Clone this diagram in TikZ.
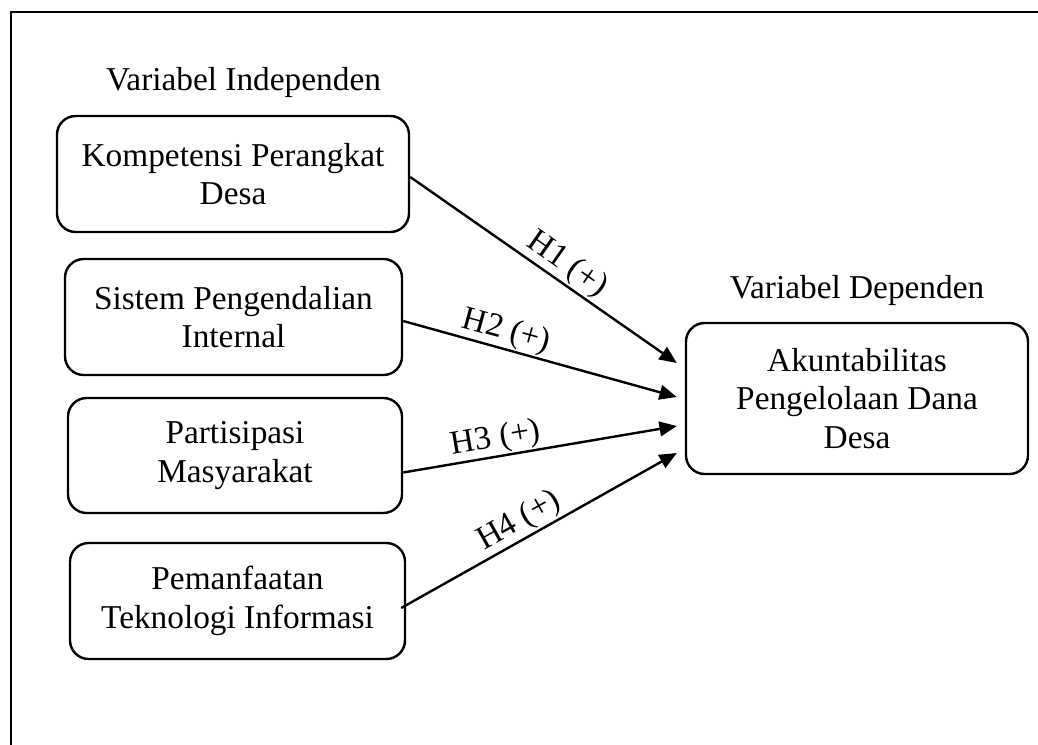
\documentclass[tikz,border=0pt]{standalone}
\usepackage{fontspec}
\setmainfont{Liberation Serif}
\usetikzlibrary{arrows.meta,calc}
\begin{document}
\begin{tikzpicture}[x=0.75pt,y=-0.75pt,
  txt/.style={font=\fontsize{25}{29}\selectfont},
  box/.style={txt, draw, line width=1.8pt, rounded corners=14pt, align=center, inner sep=0pt},
  conn/.style={line width=1.8pt, -{Triangle[length=13pt,width=11pt]}},
  hlab/.style={txt, sloped, above, inner sep=1pt}]
\useasboundingbox (0,0) rectangle (1038,745);
\draw[line width=1.8pt] (11,745) -- (11,12) -- (1038,12);

\node[txt, anchor=base] (ti) at (243.5,91) {Variabel Independen};
\node[txt, anchor=base] (td) at (857,298) {Variabel Dependen};

\node[box, minimum width=264pt, minimum height=87pt] (k1) at (233,174) {Kompetensi Perangkat\\Desa};
\node[box, minimum width=252.75pt, minimum height=87pt] (k2) at (233.5,317) {Sistem Pengendalian\\Internal};
\node[box, minimum width=250.5pt, minimum height=86.25pt] (k3) at (235,455.5) {Partisipasi\\Masyarakat};
\node[box, minimum width=251.25pt, minimum height=87pt] (k4) at (237.5,601) {Pemanfaatan\\Teknologi Informasi};
\node[box, minimum width=256.5pt, minimum height=113.25pt] (dep) at (857,398.5) {Akuntabilitas\\Pengelolaan Dana\\Desa};

\draw[conn] ($(k1.east)+(0,3)$) -- node[hlab, pos=0.55] {H1 (+)} ($(dep.west)+(-8,-35.5)$);
\draw[conn] ($(k2.east)+(0,4)$) -- node[hlab, pos=0.36] {H2 (+)} ($(dep.west)+(-8,-1.5)$);
\draw[conn] ($(k3.east)+(0,17)$) -- node[hlab, pos=0.35] {H3 (+)} ($(dep.west)+(-8,27.5)$);
\draw[conn] ($(k4.east)+(-5,7)$) -- node[hlab, pos=0.46] {H4 (+)} ($(dep.west)+(-8,54.5)$);
\end{tikzpicture}
\end{document}
